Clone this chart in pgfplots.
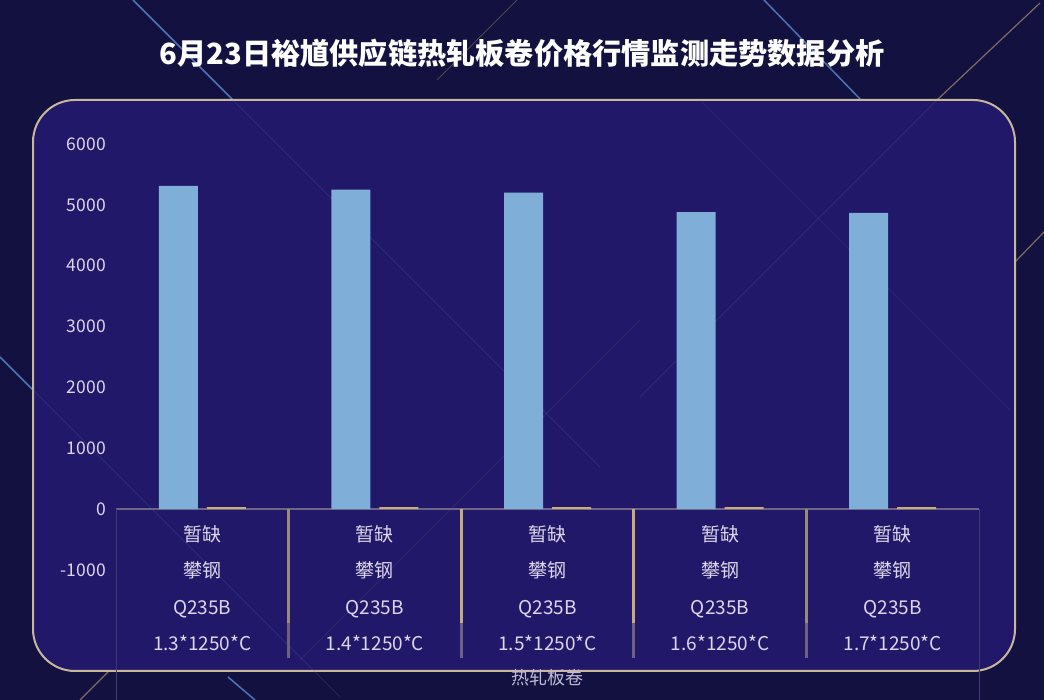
\documentclass[border=0pt]{standalone}
\usepackage{fontspec}
\setmainfont{Noto Sans CJK SC}
\usepackage{pgfplots}
\pgfplotsset{compat=1.18}

\definecolor{bgOuter}{HTML}{12113F}
\definecolor{panelFill}{HTML}{21186A}
\definecolor{panelEdge}{HTML}{C9B79C}
\definecolor{barBlue}{HTML}{7FAED9}
\definecolor{barGold}{HTML}{C9AE7A}
\definecolor{tickText}{HTML}{DDD6EA}
\definecolor{zeroLine}{HTML}{6E6486}
\definecolor{sepGold}{HTML}{C4AC7C}
\definecolor{sepDim}{HTML}{9A8A7C}
\definecolor{sepGrey}{HTML}{6C6182}
\definecolor{streakBlue}{HTML}{5E8BD6}
\definecolor{streakGold}{HTML}{C8A878}

\begin{document}
\begin{tikzpicture}[x=1pt,y=1pt]
% background and light streaks
\fill[bgOuter] (0,0) rectangle (1044,700);
\draw[streakBlue, line width=1.5pt, opacity=.8] (133,700) -- (233,600);
\draw[streakBlue, line width=1.5pt, opacity=.8] (764,700) -- (861,600);
\draw[streakBlue, line width=1.5pt, opacity=.8] (0,343) -- (33,310);
\draw[streakBlue, line width=1.5pt, opacity=.8] (228,23) -- (255,0);
\draw[streakGold, line width=1.2pt, opacity=.6] (1040,697) -- (937,600);
\draw[streakGold, line width=1.2pt, opacity=.6] (1044,468) -- (1015,438);
\draw[streakGold, line width=1.2pt, opacity=.6] (80,0) -- (110,30);
\draw[streakGold, line width=1pt, opacity=.35] (517,700) -- (437,620);

% panel
\fill[panelFill, draw=panelEdge, line width=2pt, rounded corners=42pt] (33,29) rectangle (1015,600);
\draw[streakBlue, line width=1pt, opacity=.18] (233,600) -- (600,233);
\draw[streakBlue, line width=1pt, opacity=.18] (33,310) -- (340,3);
\draw[streakBlue, line width=1pt, opacity=.12] (700,600) -- (1010,290);
\draw[streakGold, line width=1pt, opacity=.12] (937,600) -- (640,303);
\draw[streakGold, line width=1pt, opacity=.10] (300,40) -- (640,380);

\node[text=white, font=\fontsize{29.2}{34}\selectfont\bfseries] at (522,647)
  {6月23日裕馗供应链热轧板卷价格行情监测走势数据分析};

\begin{axis}[
  at={(116pt,130pt)}, anchor=south west,
  scale only axis,
  width=863pt, height=426pt,
  ybar=9pt, bar width=39pt,
  xmin=-0.5, xmax=4.5,
  ymin=-1000, ymax=6000,
  axis line style={draw=none},
  major tick length=0pt,
  clip=false,
  /pgf/number format/assume math mode=true,
  /pgf/number format/1000 sep={},
  scaled y ticks=false,
  ytick={-1000,0,1000,2000,3000,4000,5000,6000},
  yticklabel style={font=\fontsize{17.5}{20}\selectfont, text=tickText,
                    anchor=east, inner sep=0pt, xshift=-10pt},
  xtick={0,1,2,3,4},
  xticklabels={
    {暂缺\\攀钢\\Q235B\\1.3*1250*C},
    {暂缺\\攀钢\\Q235B\\1.4*1250*C},
    {暂缺\\攀钢\\Q235B\\1.5*1250*C},
    {暂缺\\攀钢\\Q235B\\1.6*1250*C},
    {暂缺\\攀钢\\Q235B\\1.7*1250*C}},
  xticklabel style={align=center, font=\fontsize{19}{36.4}\selectfont,
                    text=tickText, anchor=north, inner sep=0pt, yshift=45pt},
  xlabel={热轧板卷},
  xlabel style={at={(axis description cs:0.5,0)}, anchor=center,
                yshift=-108pt, font=\fontsize{18}{20}\selectfont,
                text=tickText!85!panelFill},
]
% zero line
\draw[zeroLine, line width=2pt] (axis cs:-0.5,0) -- (axis cs:4.5,0);

\addplot[fill=barBlue, draw=none]
  coordinates {(0,5310) (1,5250) (2,5200) (3,4880) (4,4870)};
\addplot[fill=barGold, draw=none]
  coordinates {(0,35) (1,35) (2,35) (3,35) (4,35)};

% table rules under the categories
\draw[sepGrey!45!panelFill, line width=1pt] (axis cs:-0.5,0) -- ++(0pt,-191pt);
\draw[sepGrey!45!panelFill, line width=1pt] (axis cs:4.5,0) -- ++(0pt,-191pt);
\draw[sepDim, line width=3pt] (axis cs:0.5,0) -- ++(0pt,-114pt);
\draw[sepGold, line width=3pt] (axis cs:1.5,0) -- ++(0pt,-114pt);
\draw[sepGold, line width=3pt] (axis cs:2.5,0) -- ++(0pt,-114pt);
\draw[sepDim, line width=3pt] (axis cs:3.5,0) -- ++(0pt,-114pt);
\draw[sepGrey, line width=3pt] (axis cs:0.5,0) ++(0pt,-114pt) -- ++(0pt,-35pt);
\draw[sepGrey, line width=3pt] (axis cs:1.5,0) ++(0pt,-114pt) -- ++(0pt,-35pt);
\draw[sepGrey, line width=3pt] (axis cs:2.5,0) ++(0pt,-114pt) -- ++(0pt,-35pt);
\draw[sepGrey, line width=3pt] (axis cs:3.5,0) ++(0pt,-114pt) -- ++(0pt,-35pt);
\end{axis}

\pgfresetboundingbox
\path[use as bounding box] (0,0) rectangle (1044,700);
\end{tikzpicture}
\end{document}
